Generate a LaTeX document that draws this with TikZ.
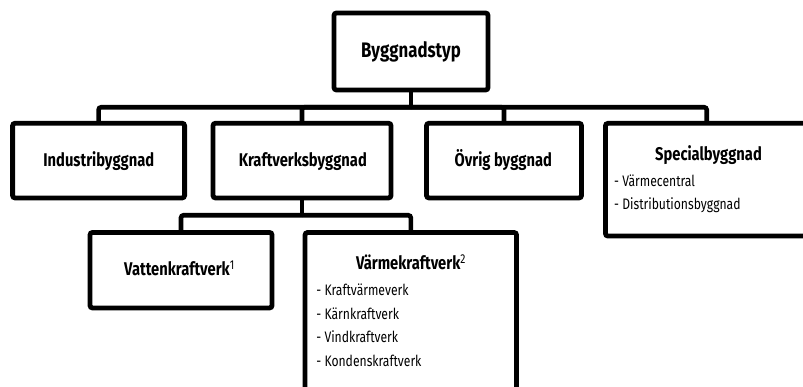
\documentclass[tikz,border=0pt]{standalone}
\usepackage{fontspec}
\setmainfont{Fira Sans}[FakeStretch=0.8]
\begin{document}
\begin{tikzpicture}[x=1pt,y=-1pt,
  box/.style={draw, line width=4.8pt, rounded corners=2.5pt, inner sep=0pt, outer sep=0pt},
  conn/.style={line width=4.6pt, rounded corners=2.5pt},
  ttl/.style={font=\fontsize{18.4}{20}\selectfont\bfseries, inner sep=0pt, anchor=base},
  bigttl/.style={font=\fontsize{21}{24}\selectfont\bfseries, inner sep=0pt, anchor=base},
  itm/.style={font=\fontsize{15.2}{17}\selectfont, inner sep=0pt, anchor=base west},
]
\useasboundingbox (0,0) rectangle (803,387);
\clip (0,0) rectangle (803,387);

% boxes
\node[box, minimum width=154pt, minimum height=77pt] (top) at (411,51.5) {};
\node[box, minimum width=172pt, minimum height=74.7pt] (ind) at (98.6,160.6) {};
\node[box, minimum width=178pt, minimum height=74.7pt] (kraft) at (302,160.6) {};
\node[box, minimum width=155pt, minimum height=74.7pt] (ovr) at (504,160.6) {};
\node[box, minimum width=202.5pt, minimum height=112.7pt] (spec) at (706.7,179.7) {};
\node[box, minimum width=182pt, minimum height=75.5pt] (vat) at (181,270.2) {};
\node[box, minimum width=211.5pt, minimum height=187pt] (varm) at (410.8,326) {};

% connectors
\coordinate (b1) at (411,107.3);
\coordinate (b2) at (302,215.3);
\draw[conn] (top.south) -- (b1);
\draw[conn] (b1) -| (ind.north);
\draw[conn] (b1) -| (kraft.north);
\draw[conn] (b1) -| (ovr.north);
\draw[conn] (b1) -| (spec.north);
\draw[conn] (kraft.south) -- (b2);
\draw[conn] (b2) -| (vat.north);
\draw[conn] (b2) -| (varm.north);

% titles
\node[bigttl] (tTop) at (411,58) {Byggnadstyp};
\node[ttl] (tInd) at (98.8,166.7) {Industribyggnad};
\node[ttl] (tKraft) at (302.8,166.7) {Kraftverksbyggnad};
\node[ttl] (tOvr) at (503.3,166.7) {Övrig byggnad};
\node[ttl] (tSpec) at (708.5,161) {Specialbyggnad};
\node[ttl] (tVat) at (179.5,276) {Vattenkraftverk\textsuperscript{\mdseries 1}};
\node[ttl] (tVarm) at (411,270) {Värmekraftverk\textsuperscript{\mdseries 2}};

% lists
\node[itm] (s1) at (614,186.7) {- Värmecentral};
\node[itm] (s2) at (614,210) {- Distributionsbyggnad};
\node[itm] (v1) at (316.2,296) {- Kraftvärmeverk};
\node[itm] (v2) at (316.2,319.3) {- Kärnkraftverk};
\node[itm] (v3) at (316.2,342.7) {- Vindkraftverk};
\node[itm] (v4) at (316.2,366) {- Kondenskraftverk};
\end{tikzpicture}
\end{document}
